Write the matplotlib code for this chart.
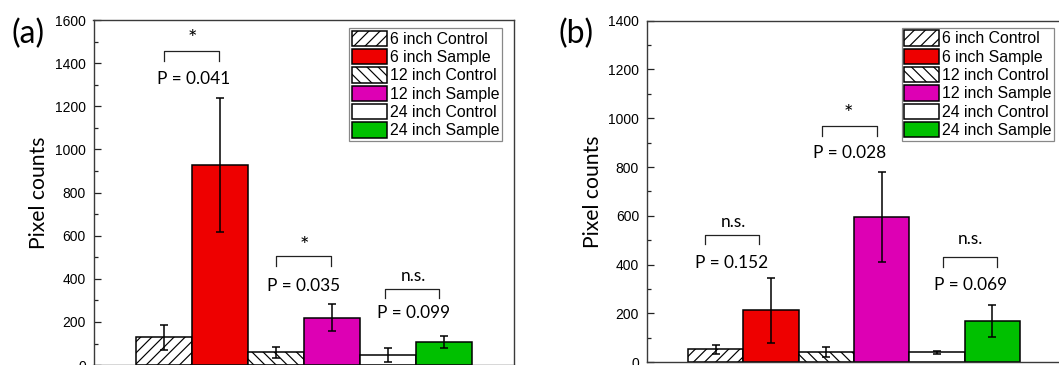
import matplotlib.pyplot as plt
import numpy as np
from matplotlib import ticker

# Groups and bar values
LABELS = [
    "6 inch Control",
    "6 inch Sample",
    "12 inch Control",
    "12 inch Sample",
    "24 inch Control",
    "24 inch Sample",
]
VALUES_A = [128, 928, 59, 220, 47, 108]
ERRORS_A = [58, 312, 26, 62, 33, 28]
VALUES_B = [52, 212, 40, 595, 40, 169]
ERRORS_B = [18, 132, 20, 185, 5, 65]

SIG_A = ["*", "*", "n.s."]
P_TEXT_A = ["P = 0.041", "P = 0.035", "P = 0.099"]
SIG_B = ["n.s.", "*", "n.s."]
P_TEXT_B = ["P = 0.152", "P = 0.028", "P = 0.069"]

# Styles
COLORS = ["white", "#ee0000", "white", "#dd00b4", "white", "#00c000"]
HATCHES = ["///", None, "\\\\\\", None, None, None]

# Bracket layout: (x_left, x_right, leg_y, top_y, sig_x, sig_y, p_x, p_y)
BRACKETS_A = [
    (0.0, 0.98, 1410, 1457, 0.51, 1512, 0.53, 1326),
    (2.01, 2.98, 461, 506, 2.5, 554, 2.5, 368),
    (3.94, 4.91, 310, 354, 4.45, 413, 4.45, 243),
]
BRACKETS_B = [
    (-0.2, 0.78, 483, 521, 0.31, 576, 0.29, 405),
    (1.92, 2.91, 928, 968, 2.39, 1016, 2.41, 858),
    (4.11, 5.09, 391, 432, 4.6, 503, 4.61, 316),
]

ANNOT_FONT = "Lato"
TICK_FONT = "Liberation Sans"

plt.rcParams["hatch.linewidth"] = 0.85
plt.rcParams["hatch.color"] = "black"
plt.rcParams["font.family"] = [TICK_FONT, "DejaVu Sans"]


def draw_panel(ax, values, errors, y_max, sig_labels, p_labels, brackets, legend_anchor):
    x = np.arange(len(values))
    for i in range(len(values)):
        ax.bar(
            x[i],
            values[i],
            width=1.0,
            color=COLORS[i],
            hatch=HATCHES[i],
            edgecolor="black",
            linewidth=1.1,
            label=LABELS[i],
            zorder=2,
        )
    ax.errorbar(x, values, yerr=errors, fmt="none", ecolor="black",
                elinewidth=1.1, capsize=3, capthick=1.1, zorder=3)

    # Significance brackets and P values
    for (x0, x1, leg_y, top_y, sx, sy, px, py), sig, ptxt in zip(brackets, sig_labels, p_labels):
        ax.plot([x0, x0, x1, x1], [leg_y, top_y, top_y, leg_y], color="#222222", linewidth=0.9, zorder=3)
        sig_size = 16 if sig == "*" else 12.4
        ax.text(sx, sy, sig, ha="center", va="center", fontsize=sig_size, family=ANNOT_FONT)
        ax.text(px, py, ptxt, ha="center", va="center", fontsize=12.4, family=ANNOT_FONT)

    # Set up axes
    ax.set_xlim(-1.25, 6.25)
    ax.set_ylim(0, y_max)
    ax.set_xticks([])
    ax.yaxis.set_major_locator(ticker.MultipleLocator(200))
    ax.yaxis.set_minor_locator(ticker.MultipleLocator(100))
    ax.tick_params(axis="y", which="major", direction="in", length=5, width=0.9,
                   pad=5.5, labelsize=10, color="#222222")
    ax.tick_params(axis="y", which="minor", direction="in", length=3, width=0.9, color="#222222")
    for spine in ax.spines.values():
        spine.set_color("#3a3a3a")
        spine.set_linewidth(1.0)

    ax.text(-0.1295, 0.5, "Pixel counts", transform=ax.transAxes, rotation=90,
            ha="center", va="center", fontsize=15.2, family=ANNOT_FONT)

    leg = ax.legend(
        loc="upper left",
        bbox_to_anchor=legend_anchor,
        borderaxespad=0,
        fontsize=11.4,
        handlelength=2.2,
        handleheight=1.1,
        handletextpad=0.2,
        labelspacing=0.15,
        borderpad=0.15,
        fancybox=False,
        framealpha=1,
        edgecolor="#888888",
    )
    leg.get_frame().set_linewidth(0.9)


fig = plt.figure(figsize=(10.59, 3.65), dpi=100)
ax_a = fig.add_axes([93.5 / 1059, -0.1 / 365, 420.8 / 1059, 345.1 / 365])
ax_b = fig.add_axes([646.7 / 1059, 2.9 / 365, 414.75 / 1059, 341.4 / 365])

draw_panel(ax_a, VALUES_A, ERRORS_A, 1600, SIG_A, P_TEXT_A, BRACKETS_A, (0.608, 0.976))
draw_panel(ax_b, VALUES_B, ERRORS_B, 1400, SIG_B, P_TEXT_B, BRACKETS_B, (0.6148, 0.9786))

fig.text(28.5 / 1059, 1 - 34 / 365, "(a)", ha="center", va="center", fontsize=23, family=ANNOT_FONT)
fig.text(576 / 1059, 1 - 34 / 365, "(b)", ha="center", va="center", fontsize=23, family=ANNOT_FONT)

fig.savefig("out.png", dpi=100)
